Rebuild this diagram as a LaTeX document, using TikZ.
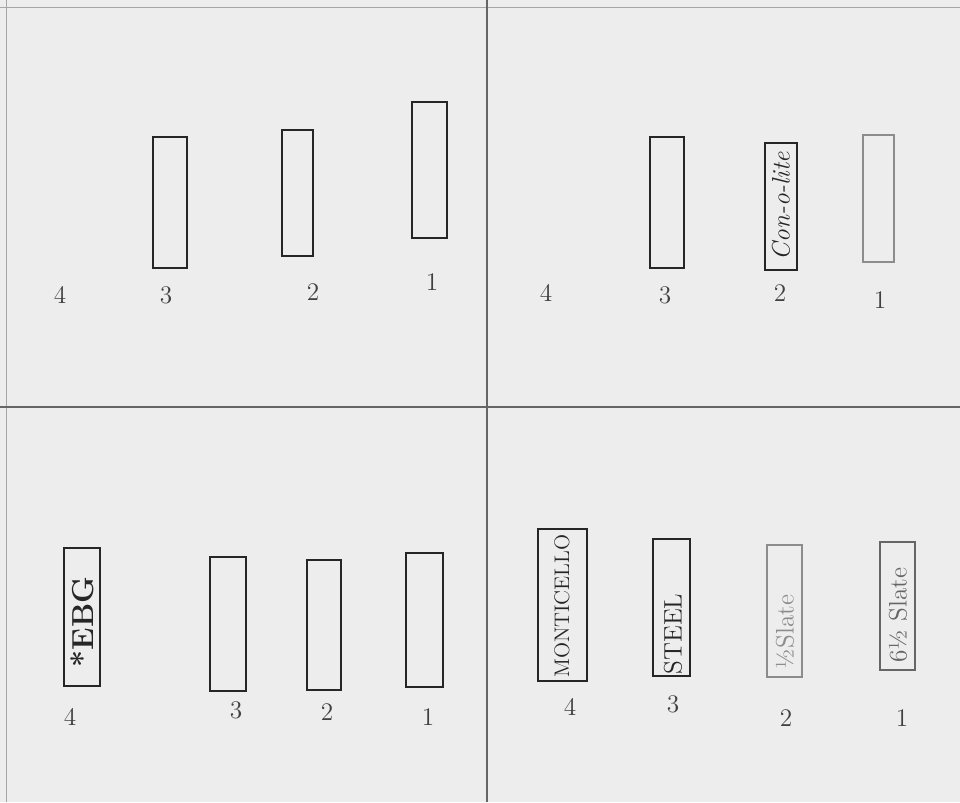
\documentclass[tikz,border=0pt]{standalone}
\usepackage{tikz}
\usetikzlibrary{positioning}

\tikzset{
  box/.style={draw=black!85, line width=0.9pt, inner sep=0pt},
  faintbox/.style={draw=black!45, line width=0.7pt, inner sep=0pt},
  num/.style={font=\Large, text=black!75},
  word/.style={rotate=90, font=\large, text=black!85, inner sep=0pt},
}

\begin{document}
\begin{tikzpicture}[x=0.02cm, y=-0.02cm]
      \fill[black!7] (0,0) rectangle (960,802);
      \useasboundingbox (0,0) rectangle (960,802);
      % sheet frame and the four panels
      \draw[black!35, line width=0.5pt] (0,7) -- (960,7);
      \draw[black!35, line width=0.5pt] (6,0) -- (6,802);
      \draw[black!60, line width=0.7pt] (487,0) -- (487,802);
      \draw[black!60, line width=0.7pt] (0,407) -- (960,407);

      % top left
      \node[box, minimum width=0.68cm, minimum height=2.62cm] (tlc) at (170,202.5) {};
      \node[box, minimum width=0.62cm, minimum height=2.52cm] (tlb) at (297.5,193) {};
      \node[box, minimum width=0.70cm, minimum height=2.72cm] (tla) at (429.5,170) {};
      \node[num] (tlnd) at (60,295) {4};
      \node[num] (tlnc) at (166,295) {3};
      \node[num] (tlnb) at (313,292) {2};
      \node[num] (tlna) at (432,282) {1};

      % top right
      \node[box, minimum width=0.68cm, minimum height=2.62cm] (trc) at (667,202.5) {};
      \node[box, minimum width=0.64cm, minimum height=2.54cm] (trb) at (781,206.5) {};
      \node[word, font=\Large\itshape] (trbw) at (781,206) {Con-o-lite};
      \node[faintbox, minimum width=0.62cm, minimum height=2.54cm] (tra) at (878.5,198.5) {};
      \node[num] (trnd) at (546,293) {4};
      \node[num] (trnc) at (665,295) {3};
      \node[num] (trnb) at (780,293) {2};
      \node[num] (trna) at (880,300) {1};

      % bottom left
      \node[box, line width=1.4pt, minimum width=0.72cm, minimum height=2.76cm] (bld) at (82,617) {};
      \node[word, font=\LARGE\bfseries] (bldw) at (82,622) {*EBG};
      \node[box, minimum width=0.72cm, minimum height=2.68cm] (blc) at (228,624) {};
      \node[box, minimum width=0.68cm, minimum height=2.60cm] (blb) at (324,625) {};
      \node[box, minimum width=0.74cm, minimum height=2.68cm] (bla) at (424.5,620) {};
      \node[num] (blnd) at (70,717) {4};
      \node[num] (blnc) at (236,710) {3};
      \node[num] (blnb) at (327,712) {2};
      \node[num] (blna) at (428,717) {1};

      % bottom right
      \node[box, minimum width=0.98cm, minimum height=3.04cm] (brd) at (562.5,605) {};
      \node[word] (brdw) at (562,606) {MONTICELLO};
      \node[box, minimum width=0.74cm, minimum height=2.74cm] (brc) at (671.5,607.5) {};
      \node[word, font=\Large] (brcw) at (673,634) {STEEL};
      \node[faintbox, minimum width=0.70cm, minimum height=2.64cm] (brb) at (784.5,611) {};
      \node[word, font=\Large, text=black!45] (brbw) at (785,632) {\textonehalf Slate};
      \node[faintbox, draw=black!60, minimum width=0.70cm, minimum height=2.56cm] (bra) at (897.5,606) {};
      \node[word, font=\Large, text=black!60] (braw) at (898,615) {6\textonehalf\ Slate};
      \node[num] (brnd) at (570,707) {4};
      \node[num] (brnc) at (673,704) {3};
      \node[num] (brnb) at (786,718) {2};
      \node[num] (brna) at (902,718) {1};
    \end{tikzpicture}
\end{document}
